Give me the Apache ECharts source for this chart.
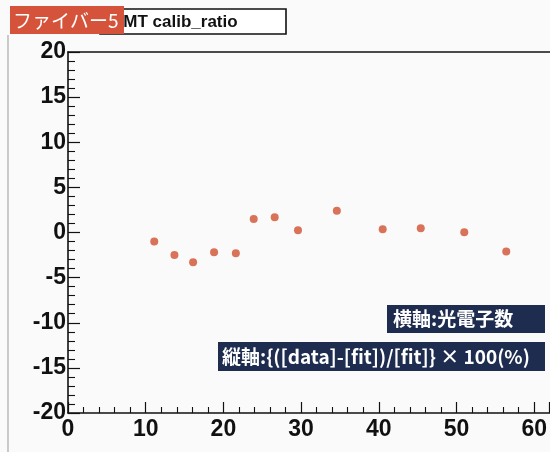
<!DOCTYPE html>
<html>
<head>
<meta charset="utf-8">
<script src="https://cdn.jsdelivr.net/npm/echarts@6/dist/echarts.min.js"></script>
<style>
  html, body { margin: 0; padding: 0; background: #fbfafb; }
  #chart { width: 550px; height: 452px; }
</style>
</head>
<body>
<div id="chart"></div>
<script>
// Photoelectron count (x) and relative residual in percent (y)
var photoElectrons = [11.1, 13.7, 16.1, 18.8, 21.6, 23.9, 26.6, 29.6, 34.6, 40.5, 45.4, 51.0, 56.4];
var residualPct    = [-1.0, -2.5, -3.3, -2.2, -2.3, 1.5, 1.7, 0.25, 2.4, 0.37, 0.48, 0.03, -2.1];

var titleText = 'PMT calib_ratio';
var fiberLabel = 'ファイバー5';
var xAxisNote = '横軸:光電子数';
var yAxisNote = '縦軸:{([data]-[fit])/[fit]} × 100(%)';

var points = photoElectrons.map(function (x, i) { return [x, residualPct[i]]; });

var chart = echarts.init(document.getElementById('chart'), null, { renderer: 'canvas' });

var labelFont = { color: '#111', fontFamily: 'Liberation Sans, Arial, sans-serif', fontWeight: 'bold', fontSize: 23 };
var jpFont = '"Noto Sans CJK JP", sans-serif';

// white text centred vertically at y, starting at x
function tag(text, x, y, size, weight) {
  return { type: 'text', z: 13,
    style: { text: text, x: x, y: y, fill: '#ffffff', verticalAlign: 'middle', align: 'left',
             font: weight + ' ' + size + 'px ' + jpFont } };
}

chart.setOption({
  backgroundColor: '#fbfafb',
  animation: false,
  grid: { left: 68, top: 52, width: 488, height: 361, containLabel: false },
  xAxis: [{
    type: 'value', min: 0, max: 62, interval: 10,
    axisLine: { show: true, onZero: false, lineStyle: { color: '#111', width: 1.6 } },
    axisTick: { show: true, inside: true, length: 11, lineStyle: { color: '#111', width: 1.2 } },
    minorTick: { show: true, splitNumber: 5, length: 6, lineStyle: { color: '#111', width: 1.1 } },
    splitLine: { show: false },
    axisLabel: Object.assign({ margin: 5, showMaxLabel: false,
      formatter: function (v) { return v % 10 === 0 && v <= 60 ? String(v) : ''; } }, labelFont)
  }, {
    type: 'value', min: 0, max: 62, position: 'top',
    axisLine: { show: true, onZero: false, lineStyle: { color: '#111', width: 1.6 } },
    axisTick: { show: false }, axisLabel: { show: false }, splitLine: { show: false }
  }],
  yAxis: [{
    type: 'value', min: -20, max: 20, interval: 5,
    axisLine: { show: true, onZero: false, lineStyle: { color: '#111', width: 1.6 } },
    axisTick: { show: true, inside: true, length: 12, lineStyle: { color: '#111', width: 1.2 } },
    minorTick: { show: true, splitNumber: 5, length: 7, lineStyle: { color: '#111', width: 1.1 } },
    splitLine: { show: false },
    axisLabel: Object.assign({ margin: 2 }, labelFont)
  }],
  series: [{
    type: 'scatter',
    data: points,
    symbol: 'circle',
    symbolSize: 8,
    itemStyle: { color: '#d0502f' },
    z: 5
  }],
  graphic: [
    // canvas border line on the left
    { type: 'line', shape: { x1: 8, y1: 35, x2: 8, y2: 452 },
      style: { stroke: '#999', lineWidth: 1 }, z: 1 },
    // title box
    { type: 'rect', shape: { x: 100, y: 9, width: 186, height: 25 },
      style: { fill: '#ffffff', stroke: '#111', lineWidth: 1.6 }, z: 10 },
    { type: 'text', z: 11,
      style: { text: titleText, x: 112, y: 22, verticalAlign: 'middle', fill: '#111',
               font: 'bold 17px "Liberation Sans", Arial, sans-serif' } },
    // fiber tag
    { type: 'rect', shape: { x: 10, y: 6, width: 114, height: 28 },
      style: { fill: '#d4533a' }, z: 12 },
    tag(fiberLabel, 13, 21, 19, 'normal'),
    // axis description notes
    { type: 'rect', shape: { x: 387, y: 305, width: 158, height: 28 },
      style: { fill: '#1e2c50' }, z: 12 },
    tag(xAxisNote, 393, 319, 19, 'bold'),
    { type: 'rect', shape: { x: 218, y: 342, width: 327, height: 29 },
      style: { fill: '#1e2c50' }, z: 12 },
    tag(yAxisNote, 222, 357, 19, 'bold')
  ]
});
</script>
</body>
</html>
